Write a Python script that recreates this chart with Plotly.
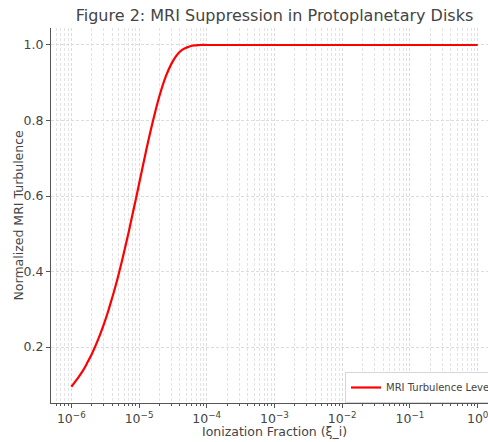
import plotly.graph_objects as go

# Data
ionization_fraction = [1e-6, 1.25e-6, 1.5e-6, 1.75e-6, 2e-6, 2.5e-6, 3e-6, 3.5e-6, 4e-6, 4.5e-6,
                       5e-6, 6e-6, 7e-6, 8e-6, 9e-6, 1e-5, 1.1e-5, 1.2e-5, 1.35e-5, 1.5e-5,
                       1.75e-5, 2e-5, 2.5e-5, 3e-5, 3.5e-5, 4e-5, 4.5e-5, 5e-5, 6e-5, 7e-5,
                       8e-5, 1e-4, 1e-3, 1e-2, 1e-1, 1.0]
mri_turbulence = [0.095, 0.118, 0.139, 0.161, 0.181, 0.221, 0.259, 0.295, 0.330, 0.362,
                  0.393, 0.451, 0.503, 0.551, 0.593, 0.632, 0.667, 0.699, 0.741, 0.777,
                  0.826, 0.865, 0.918, 0.950, 0.970, 0.982, 0.989, 0.993, 0.998, 0.999,
                  1.000, 1.000, 1.000, 1.000, 1.000, 1.000]

x_tick_vals = [1e-6, 1e-5, 1e-4, 1e-3, 1e-2, 1e-1, 1e0]
x_tick_text = ["10<sup>−6</sup>", "10<sup>−5</sup>", "10<sup>−4</sup>", "10<sup>−3</sup>",
               "10<sup>−2</sup>", "10<sup>−1</sup>", "10<sup>0</sup>"]
y_tick_vals = [0.2, 0.4, 0.6, 0.8, 1.0]
y_tick_text = ["0.2", "0.4", "0.6", "0.8", "1.0"]

FONT = "DejaVu Sans"
TXT = "#444444"

W, H = 510, 442
ML, MR, MT, MB = 51, 12, 28, 39

fig = go.Figure()
fig.add_trace(go.Scatter(
    x=ionization_fraction, y=mri_turbulence, mode="lines",
    line=dict(color="#ff0000", width=2.2, shape="spline"),
    name="MRI Turbulence Level",
))

fig.update_layout(
    width=W, height=H,
    margin=dict(l=ML, r=MR, t=MT, b=MB, autoexpand=False),
    paper_bgcolor="white", plot_bgcolor="white",
    font=dict(family=FONT, color=TXT, size=12),
    title=dict(text="Figure 2: MRI Suppression in Protoplanetary Disks",
               x=0.5, xref="paper", xanchor="center", y=1 - 15 / H, yref="container",
               yanchor="middle",
               font=dict(size=16, color=TXT, family=FONT)),
    showlegend=True,
    legend=dict(x=1.0, y=0.0, xanchor="right", yanchor="bottom",
                bgcolor="white", bordercolor="#d6d6d6", borderwidth=1,
                font=dict(size=10, color=TXT, family=FONT), itemwidth=30),
    annotations=[
        dict(text="Ionization Fraction (ξ_i)", xref="paper", yref="paper",
             x=0.5, y=-(431.5 - (H - MB)) / (H - MT - MB), xanchor="center", yanchor="middle",
             showarrow=False, font=dict(size=12.5, color=TXT, family=FONT)),
        dict(text="Normalized MRI Turbulence", xref="paper", yref="paper",
             x=-(ML - 18) / (W - ML - MR), y=0.5, xanchor="center", yanchor="middle",
             textangle=-90, showarrow=False, font=dict(size=12.5, color=TXT, family=FONT)),
    ],
)

fig.update_xaxes(
    type="log", range=[-6.3, 0.3], automargin=False,
    tickvals=x_tick_vals, ticktext=x_tick_text,
    tickfont=dict(size=12.5, color=TXT),
    ticks="outside", ticklen=4, tickcolor="#555555",
    showline=True, linecolor="#555555", linewidth=1.2, mirror=False,
    showgrid=True, gridcolor="#dcdcdc", griddash="3px,2px", gridwidth=0.8,
    zeroline=False,
    minor=dict(dtick="D1", ticks="outside", ticklen=2, tickcolor="#555555",
               showgrid=True, gridcolor="#e3e3e3", griddash="3px,2px", gridwidth=0.7),
)
fig.update_yaxes(
    range=[0.052, 1.045], automargin=False,
    tickvals=y_tick_vals, ticktext=y_tick_text,
    tickfont=dict(size=12.5, color=TXT),
    ticks="outside", ticklen=4, tickcolor="#555555",
    showline=True, linecolor="#555555", linewidth=1.2, mirror=False,
    showgrid=True, gridcolor="#dcdcdc", griddash="3px,2px", gridwidth=0.8,
    zeroline=False,
)

fig.write_html("out.html", config={"displayModeBar": False},
               post_script="document.body.style.overflow='hidden';document.body.style.margin='0';")
